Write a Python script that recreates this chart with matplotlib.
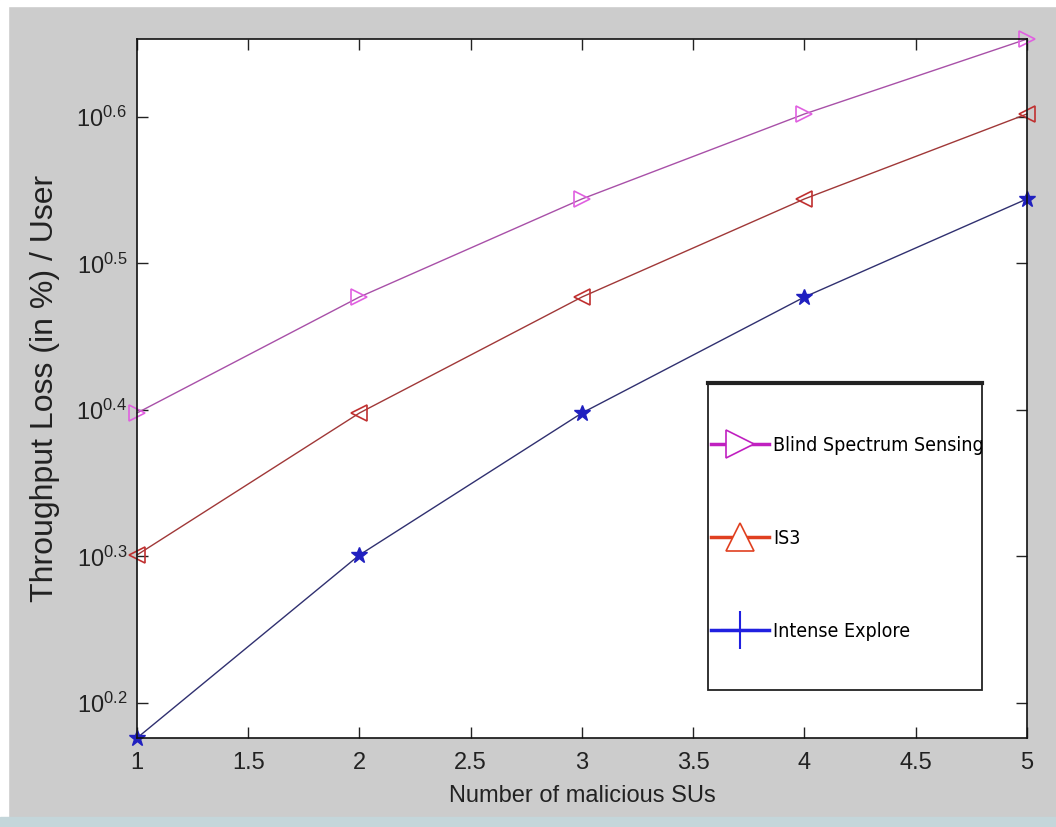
import numpy as np
import matplotlib.pyplot as plt
from matplotlib.lines import Line2D
from matplotlib.patches import Rectangle

# data
n_malicious = [1, 2, 3, 4, 5]
blind_loss = [2.5, 3.0, 3.5, 4.0, 4.5]
is3_loss = [2.0, 2.5, 3.0, 3.5, 4.0]
intense_loss = [1.5, 2.0, 2.5, 3.0, 3.5]
series_names = ['Blind Spectrum Sensing', 'IS3', 'Intense Explore']
ytick_exp = [0.2, 0.3, 0.4, 0.5, 0.6]
xtick_vals = [1, 1.5, 2, 2.5, 3, 3.5, 4, 4.5, 5]

plt.rcParams['font.family'] = ['Liberation Sans', 'DejaVu Sans']
plt.rcParams['mathtext.fontset'] = 'custom'
plt.rcParams['mathtext.rm'] = 'Liberation Sans'
plt.rcParams['mathtext.it'] = 'Liberation Sans'

fig = plt.figure(figsize=(10.56, 8.27), dpi=100, facecolor='#cccccc')
fig.patches.append(Rectangle((0, 0.9925), 1, 0.0075, transform=fig.transFigure,
                             color='white', zorder=-5))
fig.patches.append(Rectangle((0, 0), 0.0076, 1, transform=fig.transFigure,
                             color='white', zorder=-5))
fig.patches.append(Rectangle((0, 0), 1, 0.012, transform=fig.transFigure,
                             color='#c4d6da', zorder=-5))

ax = fig.add_axes([0.1297, 0.1076, 0.8428, 0.8452])
ax.set_facecolor('white')

ax.plot(n_malicious, blind_loss, color='#a850a8', lw=1.0, marker='>', ms=12,
        mfc='none', mec='#e060e0', mew=1.2, clip_on=False)
ax.plot(n_malicious, is3_loss, color='#a03838', lw=1.0, marker='<', ms=12,
        mfc='none', mec='#c03030', mew=1.2, clip_on=False)
ax.plot(n_malicious, intense_loss, color='#303070', lw=1.0, marker='*', ms=12,
        mfc='#2020c0', mec='#2020c0', mew=1.0, clip_on=False)

ax.set_yscale('log')
ax.set_xlim(1, 5)
ax.set_ylim(min(intense_loss), max(blind_loss))
ax.set_yticks([10 ** e for e in ytick_exp])
ax.set_yticklabels([r'$10^{%.1f}$' % e for e in ytick_exp])
ax.yaxis.set_minor_locator(plt.NullLocator())
ax.set_xticks(xtick_vals)
ax.set_xticklabels(['%g' % v for v in xtick_vals])
ax.tick_params(direction='in', length=8, width=1, labelsize=17, colors='#222222',
               top=True, right=True, pad=7)
ax.tick_params(axis='x', pad=10)
for s in ax.spines.values():
    s.set_linewidth(1.2)
    s.set_color('#111111')

ax.set_xlabel('Number of malicious SUs', fontsize=17, color='#222222', labelpad=8)
ax.set_ylabel('Throughput Loss (in %) / User', fontsize=23, color='#222222', labelpad=12)

# legend box (drawn separately so it can be taller than its entries)
ax.add_patch(Rectangle((0.6416, 0.0687), 0.3074, 0.4393, transform=ax.transAxes,
                       facecolor='white', edgecolor='#222222', lw=1.3, zorder=8))
ax.add_line(Line2D([0.6416, 0.9490], [0.5080, 0.5080], transform=ax.transAxes,
                   color='#222222', lw=3, zorder=9))

handles = [
    Line2D([], [], color='#c020c0', lw=2.5, marker='>', ms=20, mfc='white', mec='#c020c0', mew=1.2),
    Line2D([], [], color='#e04020', lw=2.5, marker='^', ms=20, mfc='white', mec='#e04020', mew=1.2),
    Line2D([], [], color='#2020e0', lw=2.5, marker='+', ms=28, mfc='#2020e0', mec='#2020e0', mew=1.5),
]
leg = ax.legend(handles, series_names, loc='center left',
                bbox_to_anchor=(0.645, 0.2854),
                prop={'family': ['DejaVu Sans'], 'stretch': 'condensed', 'size': 14},
                handlelength=3.0, handletextpad=0.2, labelspacing=3.8, borderpad=0,
                borderaxespad=0, frameon=False)
leg.set_zorder(10)

fig.savefig('out.png', dpi=100, facecolor=fig.get_facecolor())
